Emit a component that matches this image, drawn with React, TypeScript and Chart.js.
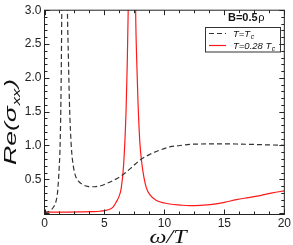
import React, { useEffect, useRef } from "react";
import { Chart, registerables } from "chart.js";

Chart.register(...registerables);

// T = Tc (dashed black)
const tcX = [0, 0.3, 0.5, 0.75, 0.97, 1.1, 1.22, 1.3, 1.38, 1.44, 1.5, 1.6, 1.7, 1.8, 1.91, 2.0, 2.08, 2.17, 2.27, 2.4, 2.55, 2.8, 3.2, 3.6, 3.9, 4.3, 4.7, 5.2, 5.7, 6.3, 6.7, 7.3, 8.0, 8.8, 9.6, 10.45, 11.3, 12.1, 13.0, 14.0, 14.8, 16.0, 17.5, 18.5, 19.6, 20];
const tcY = [0.01, 0.02, 0.04, 0.09, 0.18, 0.33, 0.66, 1.0, 1.8, 3.0, 5.0, 9.0, 7.0, 4.5, 3.0, 2.25, 1.63, 1.2, 0.9, 0.7, 0.57, 0.48, 0.42, 0.395, 0.39, 0.393, 0.405, 0.44, 0.48, 0.54, 0.59, 0.68, 0.79, 0.87, 0.93, 0.98, 1.0, 1.016, 1.022, 1.025, 1.025, 1.022, 1.015, 1.01, 1.005, 1.003];

// T = 0.28 Tc (red)
const lowX = [0, 1, 2, 3, 4, 4.6, 5.2, 5.7, 6.0, 6.2, 6.4, 6.6, 6.8, 6.9, 6.98, 7.1, 7.3, 7.45, 7.6, 7.7, 7.8, 7.95, 8.1, 8.3, 8.5, 8.8, 9.3, 10.0, 10.45, 11.3, 12.1, 13.0, 14.0, 15.0, 16.0, 17.0, 18.0, 19.0, 20.0];
const lowY = [0.015, 0.015, 0.016, 0.018, 0.022, 0.028, 0.045, 0.085, 0.17, 0.24, 0.37, 0.72, 1.5, 2.2, 3.0, 5.0, 9.0, 6.0, 3.0, 2.2, 1.63, 1.05, 0.76, 0.52, 0.37, 0.27, 0.19, 0.15, 0.135, 0.12, 0.11, 0.115, 0.13, 0.16, 0.2, 0.23, 0.26, 0.3, 0.33];

const xTickValues = [0, 5, 10, 15, 20];
const yTickValues = [0.5, 1.0, 1.5, 2.0, 2.5, 3.0];
const seriesLabels = ["T=T", "T=0.28 T"];
const seriesSub = "c";
const fieldLabel = "B=0.5";
const fieldUnit = "ρ";
const yTitleMain = "Re(σ";
const yTitleSub = "xx";
const yTitleEnd = ")";
const xTitle = "ω/T";

const SANS = "'Liberation Sans', Arial, sans-serif";
const SERIF = "'Liberation Serif', 'Times New Roman', serif";

export default function App() {
  const ref = useRef<HTMLCanvasElement>(null);

  useEffect(() => {
    document.body.style.margin = "0";
    const canvas = ref.current!;

    const decor = {
      id: "decor",
      afterDraw(chart: any) {
        const ctx = chart.ctx as CanvasRenderingContext2D;
        const { left, right, top, bottom } = chart.chartArea;
        const xs = chart.scales.x;
        const ys = chart.scales.y;
        ctx.save();
        ctx.strokeStyle = "#222";
        ctx.lineWidth = 1;
        ctx.strokeRect(left, top, right - left, bottom - top);
        // ticks
        ctx.beginPath();
        for (let i = 0; i <= 16; i++) {
          const v = i * 1.25;
          const px = Math.round(xs.getPixelForValue(v)) + 0.5;
          const len = i % 4 === 0 ? 5 : 3;
          ctx.moveTo(px, bottom);
          ctx.lineTo(px, bottom - len);
          ctx.moveTo(px, top);
          ctx.lineTo(px, top + len);
        }
        for (let i = 0; i <= 30; i++) {
          const v = i * 0.1;
          const py = Math.round(ys.getPixelForValue(v)) + 0.5;
          const len = i % 5 === 0 ? 5 : 3;
          ctx.moveTo(left, py);
          ctx.lineTo(left + len, py);
          ctx.moveTo(right, py);
          ctx.lineTo(right - len, py);
        }
        ctx.stroke();

        // Field label
        ctx.fillStyle = "#111";
        ctx.textBaseline = "alphabetic";
        ctx.textAlign = "left";
        ctx.font = `bold 11px ${SANS}`;
        ctx.fillText(fieldLabel, 228, 21);
        const fw = ctx.measureText(fieldLabel).width;
        ctx.font = `11px ${SANS}`;
        ctx.fillText(fieldUnit, 228 + fw + 0.5, 21);

        // legend box
        ctx.strokeStyle = "#333";
        ctx.lineWidth = 1;
        ctx.strokeRect(205.5, 27.5, 75, 24.5);
        // samples
        ctx.lineWidth = 1.2;
        ctx.strokeStyle = "#333";
        ctx.setLineDash([5, 3]);
        ctx.beginPath();
        ctx.moveTo(209, 33.5);
        ctx.lineTo(226, 33.5);
        ctx.stroke();
        ctx.setLineDash([]);
        ctx.strokeStyle = "#ff1a1a";
        ctx.beginPath();
        ctx.moveTo(209, 45.5);
        ctx.lineTo(226, 45.5);
        ctx.stroke();
        const rows = [36.5, 48.5];
        seriesLabels.forEach((lab, i) => {
          ctx.font = `italic 9.5px ${SANS}`;
          ctx.fillStyle = "#111";
          ctx.fillText(lab, 233, rows[i]);
          const w = ctx.measureText(lab).width;
          ctx.font = `italic 7px ${SANS}`;
          ctx.fillText(seriesSub, 233 + w + 0.5, rows[i] + 2.5);
        });

        // y title
        ctx.save();
        ctx.translate(16, 122);
        ctx.rotate(-Math.PI / 2);
        ctx.font = `italic 16px ${SANS}`;
        const w1 = ctx.measureText(yTitleMain).width;
        const w3 = ctx.measureText(yTitleEnd).width;
        ctx.font = `italic 10px ${SANS}`;
        const w2 = ctx.measureText(yTitleSub).width;
        const total = w1 + w2 + w3 + 1;
        const stretch = 86 / total;
        ctx.scale(stretch, 1);
        let x = -total / 2;
        ctx.fillStyle = "#111";
        ctx.font = `italic 16px ${SANS}`;
        ctx.fillText(yTitleMain, x, 0);
        x += w1;
        ctx.font = `italic 10px ${SANS}`;
        ctx.fillText(yTitleSub, x + 0.5, 3.5);
        x += w2 + 1;
        ctx.font = `italic 16px ${SANS}`;
        ctx.fillText(yTitleEnd, x, 0);
        ctx.restore();

        // x title
        ctx.save();
        ctx.font = `italic 18px ${SERIF}`;
        const tw = ctx.measureText(xTitle).width;
        ctx.translate(168, 243);
        ctx.scale(37 / tw, 1);
        ctx.fillStyle = "#111";
        ctx.textAlign = "center";
        ctx.fillText(xTitle, 0, 0);
        ctx.restore();

        ctx.restore();
      },
    };

    const chart = new Chart(canvas, {
      type: "line",
      data: {
        datasets: [
          {
            label: seriesLabels[0] + seriesSub,
            data: tcX.map((x, i) => ({ x, y: tcY[i] })),
            borderColor: "#333",
            borderDash: [5, 3],
            borderWidth: 1.2,
            pointRadius: 0,
            cubicInterpolationMode: "monotone",
          },
          {
            label: seriesLabels[1] + seriesSub,
            data: lowX.map((x, i) => ({ x, y: lowY[i] })),
            borderColor: "#ff1a1a",
            borderWidth: 1.2,
            pointRadius: 0,
            cubicInterpolationMode: "monotone",
          },
        ],
      },
      options: {
        animation: false,
        responsive: false,
        maintainAspectRatio: false,
        layout: { padding: { left: 0, right: 7.5, top: 5, bottom: 0 } },
        plugins: { legend: { display: false }, tooltip: { enabled: false } },
        scales: {
          x: {
            type: "linear",
            min: 0,
            max: 20,
            afterBuildTicks: (s: any) => {
              s.ticks = xTickValues.map((v) => ({ value: v }));
            },
            afterFit: (s: any) => {
              s.height = 30.5;
            },
            grid: { display: false, drawTicks: false },
            border: { display: false },
            ticks: {
              padding: 2,
              maxRotation: 0,
              color: "#222",
              font: { family: SANS, size: 12 },
              callback: (v: any) => String(v),
            },
          },
          y: {
            type: "linear",
            min: -0.02,
            max: 3,
            afterBuildTicks: (s: any) => {
              s.ticks = yTickValues.map((v) => ({ value: v }));
            },
            afterFit: (s: any) => {
              s.width = 44.5;
            },
            grid: { display: false, drawTicks: false },
            border: { display: false },
            ticks: {
              padding: 3,
              color: "#222",
              font: { family: SANS, size: 12 },
              callback: (v: any) => Number(v).toFixed(1),
            },
          },
        },
      },
      plugins: [decor],
    });
    return () => chart.destroy();
  }, []);

  return (
    <div style={{ width: 293, height: 245 }}>
      <canvas ref={ref} width={293} height={245} style={{ display: "block" }} />
    </div>
  );
}
